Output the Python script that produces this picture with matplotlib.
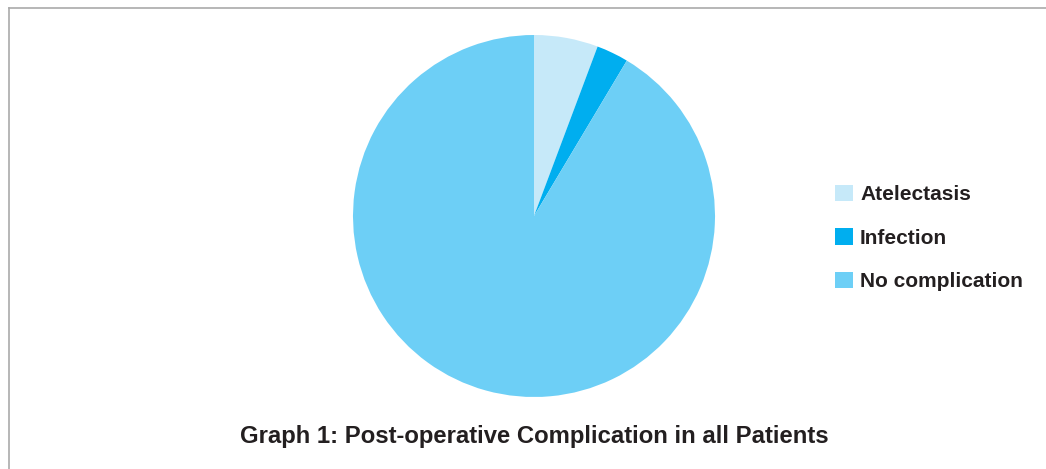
import matplotlib.pyplot as plt
from matplotlib.lines import Line2D

plt.rcParams['font.family'] = ['Liberation Sans', 'DejaVu Sans']

labels = ['Atelectasis', 'Infection', 'No complication']
counts = [2, 1, 32]
colors = ['#c6e9f9', '#00aeef', '#6dcff6']

W, H = 1046, 469
fig = plt.figure(figsize=(W / 100, H / 100), dpi=100)

# pie axes placed in pixel terms
ax = fig.add_axes([353 / W, (H - 397) / H, 362 / W, 362 / H])
wedges, _ = ax.pie(counts, colors=colors, startangle=90, counterclock=False,
                   radius=1.0, wedgeprops=dict(linewidth=0))
ax.set_xlim(-1, 1)
ax.set_ylim(-1, 1)
ax.set_aspect('equal')
ax.axis('off')

fig.legend(wedges, labels, loc='center left', bbox_to_anchor=(835 / W, 1 - 238 / H),
           frameon=False, handlelength=0.85, handleheight=0.85,
           handletextpad=0.35, labelspacing=1.15, borderpad=0, borderaxespad=0,
           prop=dict(size=15, weight='bold'), labelcolor='#231f20')

fig.text(534 / W, 1 - 436 / H, 'Graph 1: Post-operative Complication in all Patients',
         ha='center', va='center', fontsize=17.2, fontweight='bold', color='#231f20')

# frame lines (top and left)
fig.add_artist(Line2D([8.5 / W, 1], [1 - 8.5 / H, 1 - 8.5 / H], color='#aaaaaa', lw=1.2))
fig.add_artist(Line2D([8.5 / W, 8.5 / W], [0, 1 - 8.5 / H], color='#aaaaaa', lw=1.2))

fig.savefig('out.png', dpi=100)
